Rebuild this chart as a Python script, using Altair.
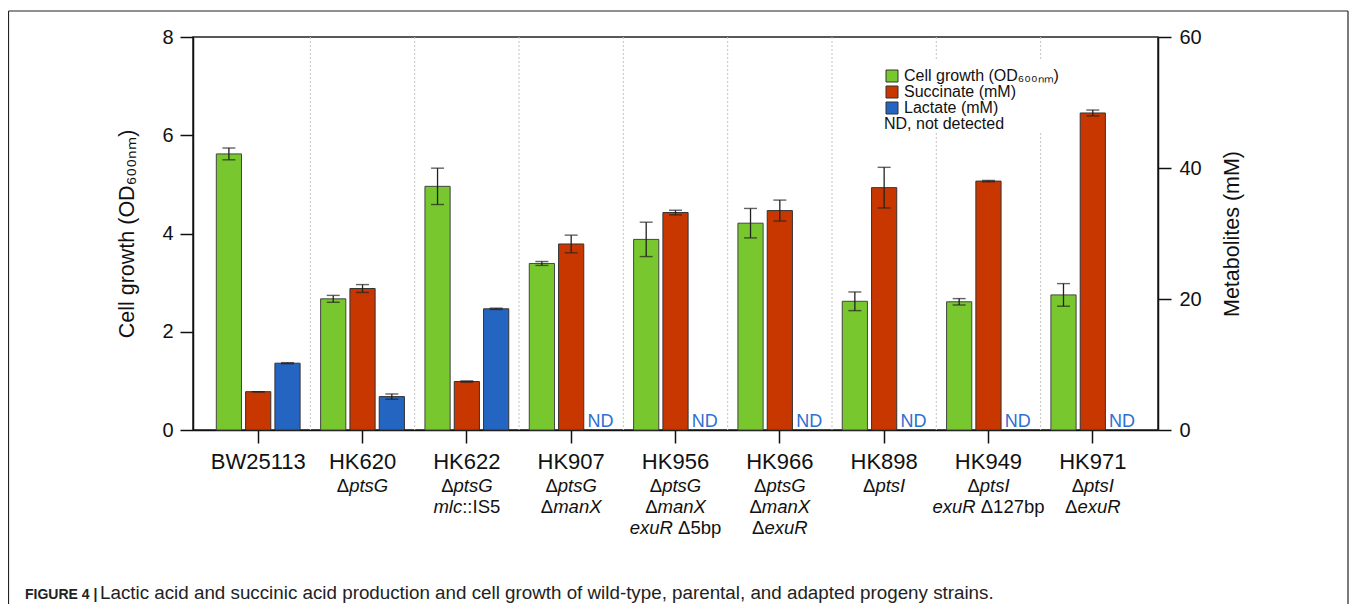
import altair as alt
import pandas as pd

# ---------------- data ----------------
strains = ["BW25113", "HK620", "HK622", "HK907", "HK956", "HK966", "HK898", "HK949", "HK971"]
# '|' separates lines, text between '*' is italic
genotypes = ["", "Δ*ptsG*", "Δ*ptsG*|*mlc*::IS5", "Δ*ptsG*|Δ*manX*",
             "Δ*ptsG*|Δ*manX*|*exuR* Δ5bp", "Δ*ptsG*|Δ*manX*|Δ*exuR*",
             "Δ*ptsI*", "Δ*ptsI*|*exuR* Δ127bp", "Δ*ptsI*|Δ*exuR*"]
growth = [5.62, 2.67, 4.96, 3.39, 3.88, 4.21, 2.62, 2.61, 2.75]
growth_err = [0.12, 0.07, 0.37, 0.04, 0.35, 0.30, 0.19, 0.065, 0.23]
succinate = [5.85, 21.6, 7.4, 28.4, 33.2, 33.5, 37.0, 38.0, 48.4]
succinate_err = [0.0, 0.6, 0.1, 1.35, 0.35, 1.6, 3.1, 0.1, 0.45]
lactate = [10.2, 5.1, 18.5, None, None, None, None, None, None]
lactate_err = [0.08, 0.4, 0.1, None, None, None, None, None, None]
series = ["Cell growth (OD₆₀₀ₙₘ)", "Succinate (mM)", "Lactate (mM)"]
colors = ["#78c72e", "#c83700", "#2565c2"]
left_ticks = [0, 2, 4, 6, 8]
right_ticks = [0, 20, 40, 60]
left_title = "Cell growth (OD₆₀₀ₙₘ)"
right_title = "Metabolites (mM)"
nd_label = "ND"
nd_legend = "ND, not detected"
caption_bold = "FIGURE 4 |"
caption_text = ("Lactic acid and succinic acid production and cell growth of wild-type, "
                "parental, and adapted progeny strains.")

FONT = "Liberation Sans, Arial, Helvetica, sans-serif"
W, H = 965, 393

# ---------------- tables ----------------
g_df = pd.DataFrame({"strain": strains, "series": series[0], "value": growth,
                     "lo": [v - e for v, e in zip(growth, growth_err)],
                     "hi": [v + e for v, e in zip(growth, growth_err)]})
rows = []
for s, v, e in zip(strains, succinate, succinate_err):
    rows.append({"strain": s, "series": series[1], "value": v, "lo": v - e, "hi": v + e})
for s, v, e in zip(strains, lactate, lactate_err):
    if v is not None:
        rows.append({"strain": s, "series": series[2], "value": v, "lo": v - e, "hi": v + e})
m_df = pd.DataFrame(rows)
nd_df = pd.DataFrame([{"strain": s, "series": series[2], "value": 0, "label": nd_label}
                      for s, v in zip(strains, lactate) if v is None])

# ---------------- encodings ----------------
x_scale = alt.Scale(domain=strains, paddingInner=0, paddingOuter=0.125)
x_axis = alt.Axis(title=None, labelAngle=0, labelFontSize=22, labelFont=FONT, labelColor="#111",
                  labelPadding=8, tickSize=13, tickWidth=1.5, tickColor="#111",
                  domainColor="#111", domainWidth=1.5, grid=False)
x_enc = alt.X("strain:N", scale=x_scale, axis=x_axis)
xo_enc = alt.XOffset("series:N", scale=alt.Scale(domain=series, paddingInner=0.14, paddingOuter=0.35))
color_enc = alt.Color("series:N", scale=alt.Scale(domain=series, range=colors),
                      legend=alt.Legend(orient="none", legendX=691, legendY=31, title=None,
                                        symbolType="square", symbolSize=144,
                                        symbolStrokeColor="#333", symbolStrokeWidth=1,
                                        labelFontSize=16, labelFont=FONT, labelColor="#111",
                                        labelOffset=4, rowPadding=0, padding=0, labelLimit=400))

ly_scale = alt.Scale(domain=[0, 8], nice=False)
ly_axis = alt.Axis(orient="left", values=left_ticks, title=left_title, grid=False,
                   labelFontSize=20, labelFont=FONT, labelColor="#111", labelPadding=7,
                   tickSize=13, tickWidth=1.5, tickColor="#111", domainColor="#111", domainWidth=1.5,
                   titleFont=FONT, titleFontSize=21.5, titleFontWeight="normal", titleColor="#111",
                   titlePadding=23)
ry_scale = alt.Scale(domain=[0, 60], nice=False)
ry_axis = alt.Axis(orient="right", values=right_ticks, title=right_title, grid=False,
                   labelFontSize=20, labelFont=FONT, labelColor="#111", labelPadding=8,
                   tickSize=13, tickWidth=1.5, tickColor="#111", domainColor="#111", domainWidth=1.5,
                   titleFont=FONT, titleFontSize=21.5, titleFontWeight="normal", titleColor="#111",
                   titleAngle=270, titleBaseline="top", titlePadding=20)

def ly(field):
    return alt.Y(field, scale=ly_scale, axis=ly_axis)

def ry(field):
    return alt.Y(field, scale=ry_scale, axis=ry_axis)

# ---------------- left (growth) layer ----------------
gbase = alt.Chart(g_df)
g_bars = gbase.mark_bar(stroke="#444", strokeWidth=1).encode(x=x_enc, xOffset=xo_enc, y=ly("value:Q"), color=color_enc)
g_rule = gbase.mark_rule(color="#222", strokeWidth=1.3).encode(x=x_enc, xOffset=xo_enc, y=ly("lo:Q"), y2="hi:Q")
g_tlo = gbase.mark_tick(color="#222", size=13, thickness=1.4).encode(x=x_enc, xOffset=xo_enc, y=ly("lo:Q"))
g_thi = gbase.mark_tick(color="#222", size=13, thickness=1.4).encode(x=x_enc, xOffset=xo_enc, y=ly("hi:Q"))
left_layer = alt.layer(g_bars, g_rule, g_tlo, g_thi)

# ---------------- right (metabolites) layer ----------------
mbase = alt.Chart(m_df)
m_bars = mbase.mark_bar(stroke="#333", strokeWidth=1).encode(x=x_enc, xOffset=xo_enc, y=ry("value:Q"), color=color_enc)
m_rule = mbase.mark_rule(color="#222", strokeWidth=1.3).encode(x=x_enc, xOffset=xo_enc, y=ry("lo:Q"), y2="hi:Q")
m_tlo = mbase.mark_tick(color="#222", size=13, thickness=1.4).encode(x=x_enc, xOffset=xo_enc, y=ry("lo:Q"))
m_thi = mbase.mark_tick(color="#222", size=13, thickness=1.4).encode(x=x_enc, xOffset=xo_enc, y=ry("hi:Q"))
nd_txt = alt.Chart(nd_df).mark_text(color="#2f6fd0", fontSize=18, font=FONT, baseline="alphabetic",
                                    align="center", dy=-3).encode(
    x=x_enc, xOffset=xo_enc, y=ry("value:Q"), text="label:N")
right_layer = alt.layer(m_bars, m_rule, m_tlo, m_thi, nd_txt)

# ---------------- decorations ----------------
one = pd.DataFrame({"k": [0]})
grid_df = pd.DataFrame({"strain": strains[1:]})
grid = alt.Chart(grid_df).mark_rule(color="#c4c4c4", strokeDash=[2, 2], strokeWidth=1).encode(
    x=alt.X("strain:N", scale=x_scale, axis=x_axis, bandPosition=0),
    y=alt.value(0), y2=alt.value(H))
legend_bg = alt.Chart(one).mark_rect(color="white").encode(
    x=alt.value(685), x2=alt.value(869), y=alt.value(23), y2=alt.value(96))
frame_l = alt.Chart(one).mark_rule(color="#222", strokeWidth=1.2).encode(
    x=alt.value(-184.5), y=alt.value(-26), y2=alt.value(H + 180))
frame_t = alt.Chart(one).mark_rule(color="#222", strokeWidth=1.2).encode(
    x=alt.value(-184.5), x2=alt.value(1155), y=alt.value(-26))
frame_r = alt.Chart(one).mark_rule(color="#222", strokeWidth=1.2).encode(
    x=alt.value(1155), y=alt.value(-26), y2=alt.value(H + 180))
nd_leg = alt.Chart(one).mark_text(text=nd_legend, align="left", baseline="alphabetic",
                                  fontSize=16, font=FONT, color="#111").encode(
    x=alt.value(691), y=alt.value(92))
cap_b = alt.Chart(one).mark_text(text=caption_bold, align="left", baseline="alphabetic",
                                 fontSize=14, font=FONT, fontWeight="bold", color="#222").encode(
    x=alt.value(-168), y=alt.value(562))
cap_t = alt.Chart(one).mark_text(text=caption_text, align="left", baseline="alphabetic",
                                 fontSize=18.8, font=FONT, color="#222").encode(
    x=alt.value(-93), y=alt.value(562))

# genotype sub-labels (mixed italic / upright), centred under each group
CW = {"Δ": 0.668, "p": 0.556, "t": 0.278, "s": 0.5, "G": 0.778, "m": 0.833, "a": 0.556,
      "n": 0.556, "X": 0.667, "l": 0.222, "c": 0.5, ":": 0.278, "I": 0.278, "S": 0.667,
      "5": 0.556, "e": 0.556, "x": 0.5, "u": 0.556, "R": 0.722, "b": 0.556, "1": 0.556,
      "2": 0.556, "7": 0.556, " ": 0.278}
SUB_FS = 18.5
line_y = [455, 476, 497]
sub_layers = []
for s, g in zip(strains, genotypes):
    if not g:
        continue
    for li, line in enumerate(g.split("|")):
        parts = line.split("*")
        total = sum(CW.get(ch, 0.55) for ch in line.replace("*", "")) * SUB_FS
        cum = -total / 2
        for pi_, seg in enumerate(parts):
            if seg:
                lead = len(seg) - len(seg.lstrip(" "))
                dx = cum + lead * CW[" "] * SUB_FS
                sub_layers.append(
                    alt.Chart(pd.DataFrame({"strain": [s], "t": [seg.strip()]})).mark_text(
                        align="left", baseline="alphabetic", dx=dx, fontSize=SUB_FS, font=FONT,
                        fontStyle="italic" if pi_ % 2 == 1 else "normal", color="#111").encode(
                        x=x_enc, y=alt.value(line_y[li]), text="t:N"))
            cum += sum(CW.get(ch, 0.55) for ch in seg) * SUB_FS

chart = alt.layer(grid, legend_bg, left_layer, right_layer, nd_leg, frame_l, frame_t, frame_r,
                  cap_b, cap_t, *sub_layers).resolve_scale(y="independent").properties(
    width=W, height=H,
    padding={"left": 185, "top": 29, "right": 191, "bottom": 174},
    autosize=alt.AutoSizeParams(type="none"),
    background="white",
).configure_view(stroke="#222", strokeWidth=1.5)

chart.save("out.html", embed_options={"renderer": "svg", "actions": False})
